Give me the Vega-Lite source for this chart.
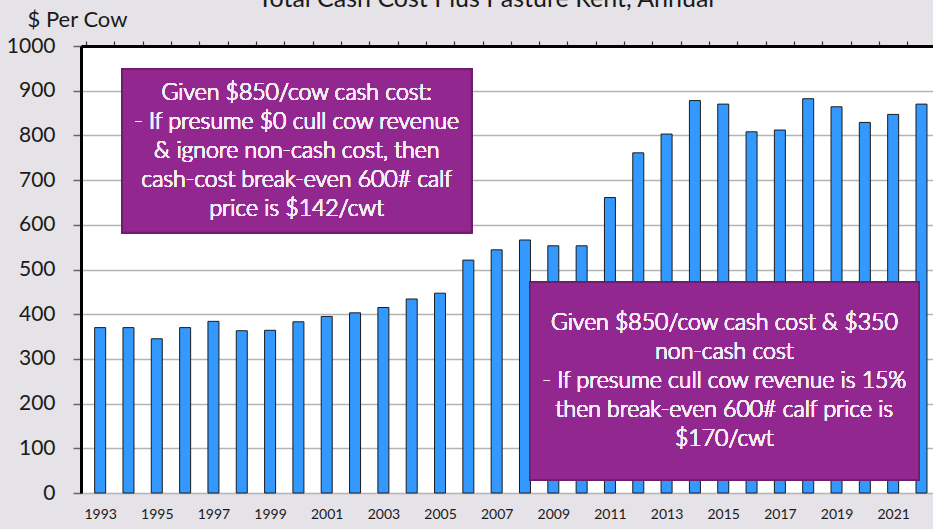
{
  "$schema": "https://vega.github.io/schema/vega-lite/v6.json",
  "width": 852,
  "height": 447,
  "autosize": {"type": "none"},
  "padding": {"left": 81, "top": 46, "right": 0, "bottom": 36},
  "background": "#e5e2e8",
  "title": {"text": "Total Cash Cost Plus Pasture Rent, Annual", "fontSize": 25, "font": "Lato", "fontWeight": "normal", "color": "#1a1a1a", "anchor": "middle", "dx": -21, "offset": -4},
  "config": {"view": {"fill": "white", "stroke": null}, "font": "Lato"},
  "data": {"values": [
    {"year": 1993, "cost": 370}, {"year": 1994, "cost": 370}, {"year": 1995, "cost": 345},
    {"year": 1996, "cost": 370}, {"year": 1997, "cost": 384}, {"year": 1998, "cost": 363},
    {"year": 1999, "cost": 364}, {"year": 2000, "cost": 383}, {"year": 2001, "cost": 395},
    {"year": 2002, "cost": 403}, {"year": 2003, "cost": 415}, {"year": 2004, "cost": 434},
    {"year": 2005, "cost": 447}, {"year": 2006, "cost": 521}, {"year": 2007, "cost": 544},
    {"year": 2008, "cost": 566}, {"year": 2009, "cost": 553}, {"year": 2010, "cost": 553},
    {"year": 2011, "cost": 661}, {"year": 2012, "cost": 761}, {"year": 2013, "cost": 803},
    {"year": 2014, "cost": 878}, {"year": 2015, "cost": 870}, {"year": 2016, "cost": 808},
    {"year": 2017, "cost": 812}, {"year": 2018, "cost": 882}, {"year": 2019, "cost": 864},
    {"year": 2020, "cost": 829}, {"year": 2021, "cost": 847}, {"year": 2022, "cost": 870}
  ]},
  "layer": [
    {
      "mark": {"type": "bar", "width": 11, "color": "#3399ff", "stroke": "#1c1c1c", "strokeWidth": 1},
      "encoding": {
        "x": {"field": "year", "type": "quantitative",
          "scale": {"domain": [1992.5, 2022.23], "nice": false, "zero": false},
          "axis": {"values": [1993, 1995, 1997, 1999, 2001, 2003, 2005, 2007, 2009, 2011, 2013, 2015, 2017, 2019, 2021],
            "format": "d", "ticks": false, "domain": false, "grid": false, "labelFontSize": 14, "labelColor": "#1a1a1a",
            "labelPadding": 14, "title": null, "labelFlush": false}},
        "y": {"field": "cost", "type": "quantitative",
          "scale": {"domain": [0, 1000], "nice": false},
          "axis": {"values": [0, 100, 200, 300, 400, 500, 600, 700, 800, 900, 1000], "format": "d",
            "grid": true, "gridColor": "#b4b4b4", "gridWidth": 1.5,
            "domain": true, "domainColor": "#000000", "domainWidth": 3,
            "tickSize": 8, "tickColor": "#666666", "tickWidth": 1.5,
            "labelFontSize": 21, "labelColor": "#1a1a1a", "labelPadding": 18,
            "title": "$ Per Cow", "titleAngle": 0, "titleAlign": "center", "titleBaseline": "alphabetic",
            "titleX": -4, "titleY": -20, "titleFontSize": 22, "titleFontWeight": "normal", "titleColor": "#1a1a1a"}}
      }
    },
    {
      "mark": {"type": "rect", "fill": "#92278f", "stroke": "#6f1d6c", "strokeWidth": 1.5},
      "encoding": {
        "x": {"datum": 1993.78, "type": "quantitative",
          "axis": {"values": [1992.5, 1993.5, 1994.5, 1995.5, 1996.5, 1997.5, 1998.5, 1999.5, 2000.5, 2001.5, 2002.5, 2003.5, 2004.5, 2005.5, 2006.5, 2007.5, 2008.5, 2009.5, 2010.5, 2011.5, 2012.5, 2013.5, 2014.5, 2015.5, 2016.5, 2017.5, 2018.5, 2019.5, 2020.5, 2021.5],
            "labels": false, "ticks": true, "tickSize": 5, "tickColor": "#333333", "tickWidth": 1.2,
            "domain": true, "domainColor": "#444444", "domainWidth": 1.5, "grid": false, "title": null}},
        "x2": {"datum": 2006.11},
        "y": {"datum": 948, "type": "quantitative"},
        "y2": {"datum": 583}
      }
    },
    {
      "mark": {"type": "rect", "fill": "#92278f", "stroke": "#6f1d6c", "strokeWidth": 1.5},
      "encoding": {
        "x": {"datum": 2008.17, "type": "quantitative",
          "axis": {"orient": "top", "labels": false, "ticks": false, "domain": true, "domainColor": "#000000", "domainWidth": 3, "grid": false, "title": null}},
        "x2": {"datum": 2021.91},
        "y": {"datum": 471.4, "type": "quantitative"},
        "y2": {"datum": 29}
      }
    },
    {
      "mark": {"type": "text", "font": "Lato", "fontSize": 23, "fontWeight": 300, "fill": "#f6ecf6", "lineHeight": 29, "align": "center", "baseline": "middle",
        "text": ["Given $850/cow cash cost:", "- If presume $0 cull cow revenue", "& ignore non-cash cost, then", "cash-cost break-even 600# calf", "price is $142/cwt"]},
      "encoding": {
        "x": {"datum": 1999.94, "type": "quantitative", "axis": null},
        "y": {"datum": 894, "type": "quantitative"}
      }
    },
    {
      "mark": {"type": "text", "font": "Lato", "fontSize": 23, "fontWeight": 300, "fill": "#f6ecf6", "lineHeight": 29, "align": "center", "baseline": "middle",
        "text": ["Given $850/cow cash cost & $350", "non-cash cost", "- If presume cull cow revenue is 15%", "then break-even 600# calf price is", "$170/cwt"]},
      "encoding": {
        "x": {"datum": 2015.04, "type": "quantitative", "axis": null},
        "y": {"datum": 379.6, "type": "quantitative"}
      }
    }
  ],
  "resolve": {"axis": {"x": "independent"}}
}
